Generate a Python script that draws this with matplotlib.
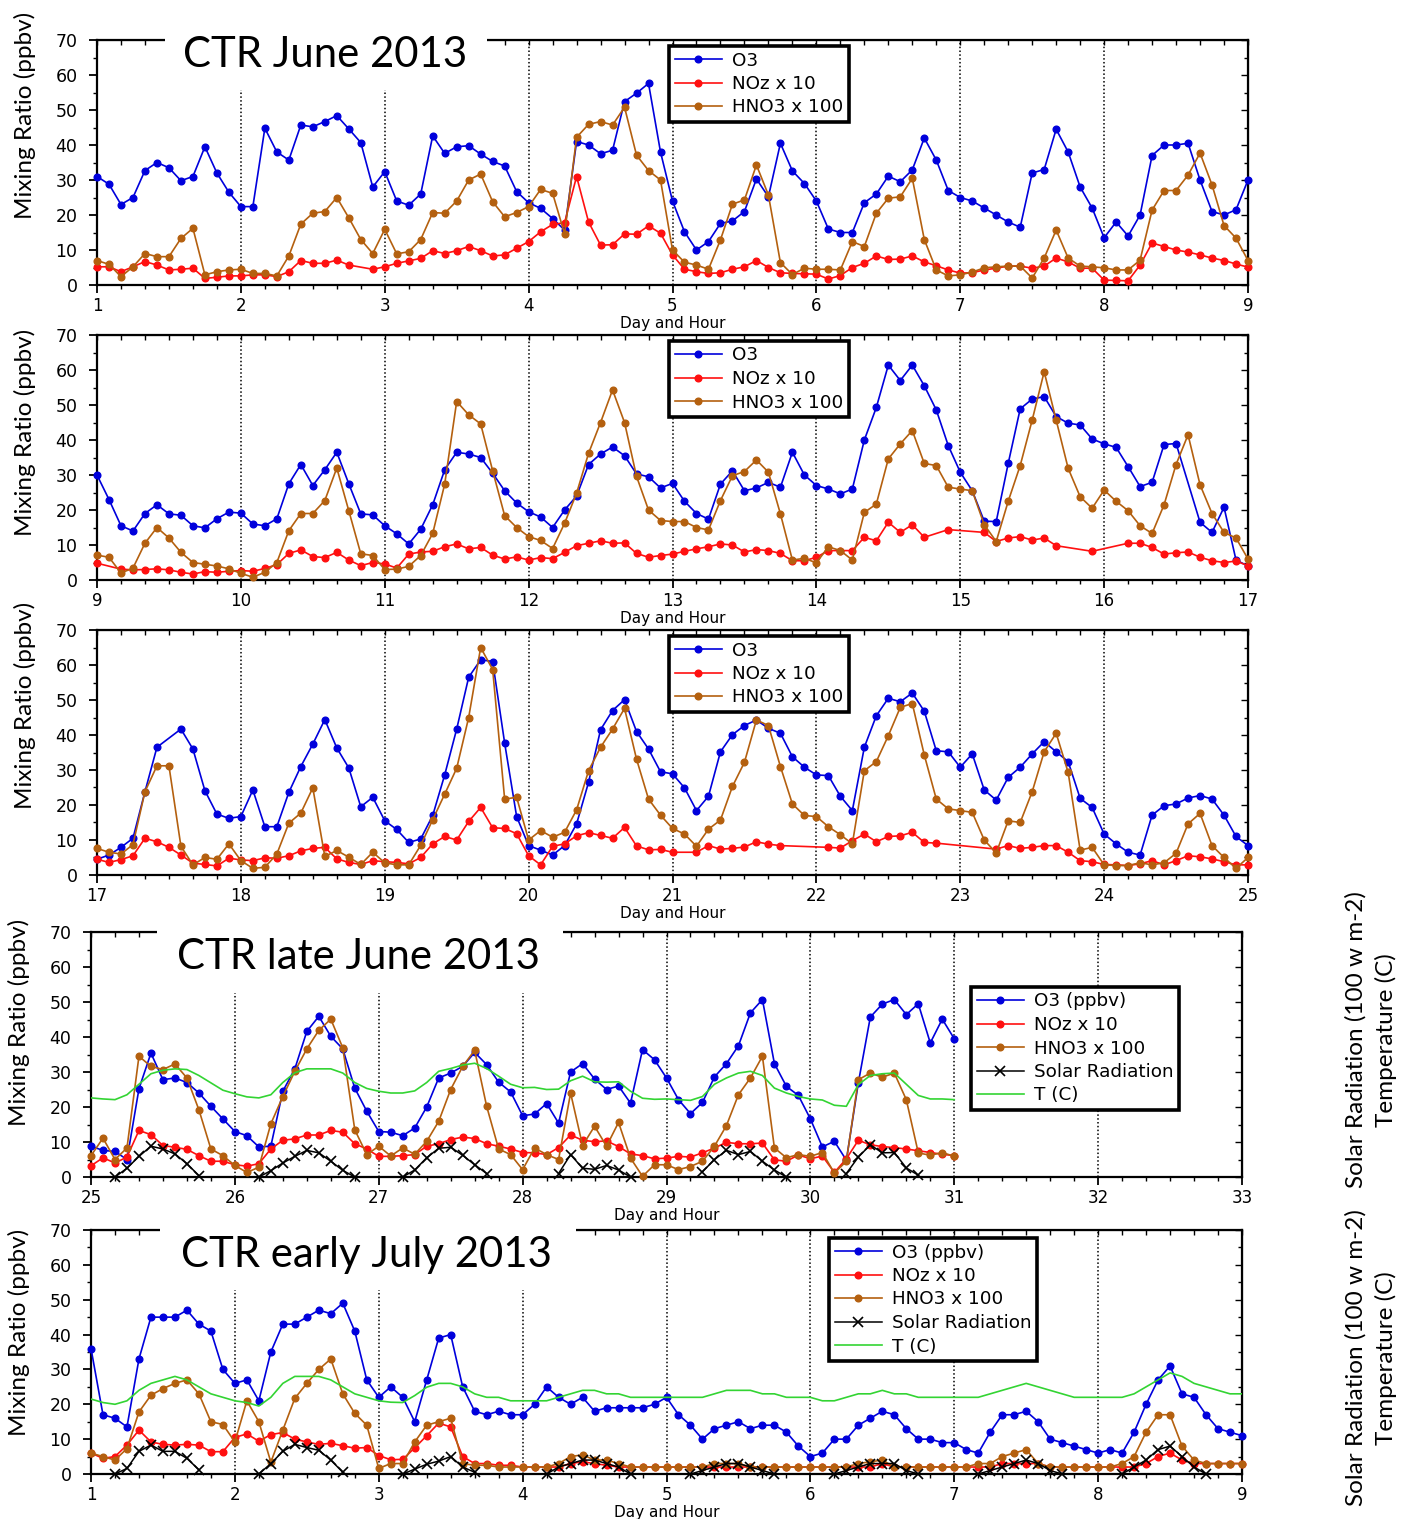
import numpy as np
import matplotlib
matplotlib.use("Agg")
import matplotlib.pyplot as plt
from matplotlib.patches import Rectangle
from matplotlib.ticker import MultipleLocator

W, H = 1403, 1519

# 2-hourly values (12 per day), None = missing sample
o3_1 = [31, 28.8, 23, 25, 32.7, 35, 33.5, 29.8, 31, 39.5, 32, 26.5,
        22.4, 22.4, 44.8, 38, 35.7, 45.7, 45.2, 46.7, 48.4, 44.6, 40.7, 28,
        32.4, 24, 22.8, 26, 42.6, 37.6, 39.5, 39.8, 37.4, 35.3, 34, 26.7,
        23.5, 21.9, 19, 15.7, 41, 40, 37.5, 38.5, 52.4, 54.8, 57.6, 38,
        24, 15.2, 10, 12.4, 17.6, 18.3, 21, 30.3, 25.2, 40.5, 32.6, 29,
        24, 16, 15, 15, 23.5, 26, 31.1, 29.5, 32.9, 42, 35.7, 27,
        25, 24, 22, 20, 18, 16.5, 32, 33, 44.5, 38, 28, 22,
        13.5, 18, 14, 20, 37, 40, 40, 40.5, 30, 21, 20, 21.5,
        30]
noz_1 = [5.2, 5.2, 3.8, 5.2, 6.7, 5.7, 4.3, 4.5, 4.8, 1.9, 2.2, 2.6,
         2.6, 2.9, 2.9, 2.4, 3.8, 7, 6.2, 6.2, 7.1, 5.7, None, 4.5,
         5.2, 6.2, 6.9, 7.6, 9.8, 9, 9.8, 11, 9.8, 8.3, 8.6, 10.5,
         12.4, 15.2, 17.3, 17.8, 31, 18, 11.4, 11.5, 14.6, 14.5, 16.9, 14.8,
         8.6, 4.5, 3.8, 3.3, 3.5, 4.5, 5.2, 7, 5, 3.5, 3.3, 3.2,
         3.1, 1.7, 2.7, 5, 6.2, 8.3, 7.3, 7.4, 8.3, 6.6, 5.5, 4.3,
         3.4, 3.5, 4.3, 4.8, 5.4, 5.4, 4.8, 5.4, 7.7, 6.6, 4.8, 4.8,
         1.4, 1.3, 1.2, 5.7, 12, 11, 10, 9.4, 8.6, 7.7, 7, 6,
         5.1]
hno3_1 = [7, 5.9, 2.4, 5.2, 9, 8.1, 8.1, 13.3, 16.2, 2.9, 3.8, 4.3,
          4.5, 3.3, 3.3, 2.6, 8.3, 17.4, 20.5, 21, 25, 19.2, 13, 9,
          15.9, 8.9, 9.5, 13, 20.7, 20.5, 24, 30, 31.7, 23.8, 19.5, 20.7,
          22.4, 27.3, 26.2, 14.6, 42.2, 45.9, 46.7, 45.7, 50.8, 37.1, 32.7, 30,
          10, 6.5, 5.7, 4.5, 12.9, 23.1, 24.3, 34.3, 25.7, 6.4, 3, 4.8,
          4.5, 4.5, 4.3, 12.4, 11, 20.5, 24.8, 25.2, 30.5, 13, 4.3, 2.6,
          2.9, 3.7, 4.9, 5.2, 5.4, 5.4, 2, 7.7, 15.7, 7.7, 5.4, 5.2,
          4.9, 4.3, 4.3, 7.1, 21.4, 27, 27, 31.4, 37.7, 28.6, 17, 13.4,
          7]

o3_2 = [30, 23, 15.5, 14, 19, 21.5, 18.9, 18.5, 15.5, 14.9, 17.5, 19.4,
        19.1, 16, 15.5, 17.5, 27.5, 33, 27, 31.5, 36.5, 27.5, 18.9, 18.6,
        15.5, 13.2, 10.3, 14.5, 21.5, 31.5, 36.5, 36, 35, 30.5, 25.5, 22,
        19.5, 18, 15, 20, 24, 33, 36, 38, 35.5, 30.3, 29.5, 26.3,
        27.6, 22.5, 19, 17.4, 27.4, 31.2, 25.5, 26.3, 27.9, 26.5, 36.5, 30,
        27, 26, 24.6, 26, 40, 49.3, 61.4, 57, 61.4, 55.5, 48.6, 38.4,
        30.8, 25.5, 16.8, 16.7, 33.3, 48.9, 51.7, 52.4, 46.7, 44.8, 44.3, 40.3,
        38.9, 37.9, 32.4, 26.7, 27.9, 38.7, 39, None, 16.5, 13.6, 20.8, 5.7,
        4]
noz_2 = [4.8, None, 3.1, 2.9, 3.0, 3.2, 2.9, 2.2, 1.7, 2.4, 2.2, 2.5,
         2.7, 2.5, 3.3, 4.4, 7.6, 8.6, 6.7, 6.4, 7.9, 5.7, 4.1, 5,
         4.6, 3.4, 7.4, 8, 8.2, 9.5, 10.3, 8.9, 9.3, 7.1, 6, 6.6,
         5.7, 6.4, 6.1, 7.9, 9.8, 10.5, 11.2, 10.5, 10.6, 7.6, 6.5, 7,
         7.4, 8.2, 8.9, 9.5, 10.3, 10, 8, 8.7, 8.4, 7.6, 5.5, 5.5,
         6.5, 8.4, 8.4, 8.4, 12.2, 11.2, 16.5, 13.6, 15.8, 12.2, None, 14.4,
         None, None, 13.6, 11, 12, 12.4, 11.4, 12, 9.8, None, None, 8.2,
         None, None, 10.5, 10.5, 9.3, 7.4, 7.8, 8, 6.5, 5.5, 5, 5.4,
         4.1]
hno3_2 = [7.1, 6.5, 2, 3.4, 10.5, 15, 12, 7.9, 5, 4.5, 4, 3.2,
          1.9, 0.8, 2.2, 5, 14.1, 19, 19, 22.7, 32, 19.8, 7.5, 7,
          3, 3.1, 3.9, 7, 13.3, 27.4, 51, 47.2, 44.6, 31.2, 18.4, 15,
          12.4, 11.3, 9, 16.2, 24.8, 36.2, 45, 54.3, 45, 29.6, 20, 17,
          16.7, 16.7, 15, 14.3, 22.7, 29.8, 31, 34.3, 30.8, 18.9, 5.7, 6.2,
          4.9, 9.5, 8.4, 5.7, 19.3, 21.7, 34.6, 38.9, 42.7, 33.3, 32.7, 26.5,
          26, 25.5, 15.8, 11, 22.5, 32.7, 45.7, 59.5, 45.7, 31.9, 23.8, 20.5,
          25.7, 22.5, 19.8, 15.5, 13.3, 21.5, 33, 41.5, 27.2, 19, 13.6, 12,
          6]

o3_3 = [4.5, 5.7, 7.9, 10.5, 23.8, 36.5, None, 41.7, 36, 24.1, 17.4, 16.2,
        16.7, 24.3, 13.8, 13.8, 23.6, 31, 37.4, 44.4, 36.3, 30.6, 19.5, 22.2,
        15.5, 13, 9.3, 10.3, 17, 28.6, 41.7, 56.5, 61.5, 61, 37.7, 16.7,
        8.4, 7.1, 5.7, 8.4, 14.6, 26.5, 41.5, 47, 50.1, 41, 36, 29.5,
        28.9, 24.9, 18.4, 22.5, 35.2, 40.1, 42.7, 44.3, 41.9, 40.5, 33.8, 30.8,
        28.6, 28.4, 22.5, 18.4, 36.5, 45.5, 50.5, 49.5, 52, 46.8, 35.5, 35.2,
        30.8, 34.6, 24.3, 21.4, 27.9, 30.8, 34.6, 38.1, 35.2, 32.4, 21.9, 19.3,
        11.7, 8.9, 6.5, 5.7, 17.1, 19.8, 20.3, 22, 22.7, 21.7, 17.1, 11,
        8.4]
noz_3 = [4.5, 3.6, 4.4, 5.5, 10.5, 9.5, 7.9, 5.7, 3.4, 3, 2.6, 4.8,
         4.3, 4.1, 4.9, 4.8, 5.5, 6.9, 7.6, 7.9, 4.6, 3.6, 3, 4.1,
         3.8, 3.6, 3.2, 5, 8.9, 11, 10, 15.3, 19.3, 13.5, 13.3, 11.8,
         5.5, 2.9, 8.2, 8.9, 11.2, 12.1, 11.3, 10.5, 13.6, 8.3, 7.2, 7.3,
         6.5, None, 6.5, 8.4, 7.4, 7.6, 8, 9.5, 8.8, 8.4, None, None,
         None, 7.9, 7.7, 9.8, 11.7, 9.5, 11, 11.2, 12.2, 9.3, 9.1, None,
         None, None, None, 7.4, 8.4, 7.6, 7.9, 8.4, 8.4, 6.5, 4.1, 3.8,
         3, 2.9, 2.7, 3.2, 4.1, 2.9, 4.1, 5.5, 5.2, 4.6, 3.8, 2.9,
         2.9]
hno3_3 = [7.6, 6.5, 6, 8.7, 23.8, 31.2, 31.2, 8.2, 2.9, 5, 4.5, 8.9,
          4.1, 1.9, 2.2, 6, 14.8, 17.7, 24.9, 5.3, 7, 5.1, 3, 6.5,
          3.5, 2.9, 2.9, 8.5, 15.8, 23.1, 30.5, 45, 65, 58.7, 21.7, 22.2,
          10, 12.7, 10.8, 12.2, 18.6, 29.8, 36.5, 41.7, 47.6, 33.1, 21.7, 17.1,
          13.3, 11.7, 8.2, 13.1, 15.7, 25.3, 32.2, 44.3, 42.7, 31, 20.3, 17,
          16.7, 13.8, 11.5, 8.9, 29.8, 32.4, 39.8, 47.9, 49, 34.3, 21.7, 18.9,
          18.4, 17.9, 10, 6.3, 15.5, 15, 23.8, 35.2, 40.5, 29.3, 7.1, 7.9,
          2.9, 2.7, 2.7, 3.5, 2.9, 3.5, 6.2, 14.6, 17.6, 8.4, 5, 1.9,
          5]

o3_4 = [8.8, 7.6, 7.3, 5, 25.2, 35.4, 27.8, 28.3, 27, 24, 20.2, 16.6,
        13, 11.8, 8.6, 8.8, 24.5, 30.9, 41.6, 45.9, 40.2, 36.6, 25.4, 18.8,
        13, 12.8, 11.8, 14, 20, 28.3, 29.7, 31.6, 35.6, 32.1, 27.1, 24.3,
        17.5, 18, 21, 15.4, 30, 32.4, 28, 25, 26, 21.1, 36.4, 33.5,
        28.3, 22.1, 18.1, 21.3, 28.6, 32.4, 37.5, 46.9, 50.7, 32.4, 25.9, 23.3,
        16.6, 8.6, 10.2, 4.8, 26.9, 45.7, 49.4, 50.7, 46.4, 49.5, 38.3, 45.1,
        39.5]
noz_4 = [3.2, 5.5, 4, 5.7, 13.3, 12.1, 9, 8.5, 7.9, 6.1, 4.5, 4.5,
         3.5, 3.1, 3.8, 8, 10.5, 10.9, 12, 12, 13.3, 12.8, 9.5, 8,
         5.9, 5.9, 6.1, 6.4, 8.8, 9.5, 10.7, 11.4, 11, 9.5, 8.8, 8,
         7, 6.9, 6.4, 8.4, 12, 10.5, 10.1, 10.3, 8.7, 6.6, 6.1, 5.2,
         5.4, 5.9, 5.7, 6.9, 8.3, 9.9, 9.5, 9.5, 9.7, 4.9, 4.5, 6.3,
         5.2, 6, 1.3, 5.2, 10.5, 9.2, 8.7, 8.4, 8, 7.5, 7, 6.5,
         6.1]
hno3_4 = [6.1, 11.1, 5, 8.3, 34.5, 31.6, 30.7, 32.3, 28.3, 19.2, 8, 6.1,
          3.3, 1.3, 2.8, 15.2, 23, 30.2, 36.6, 41.9, 45.1, 36.9, 13.5, 6.4,
          8.8, 6, 8.3, 6.5, 10.2, 15.9, 25, 31.6, 36.2, 20.2, 8, 6.4,
          2.1, 8.3, 6.4, 5, 24, 9, 14.5, 8.8, 15.6, 5.4, 0.2, 3.5,
          3.5, 2.1, 3, 4.5, 8.8, 14.7, 23.5, 28.3, 34.5, 8.3, 5.5, 6.4,
          5.9, 7, 1.1, 4.5, 27.8, 29.7, 28.5, 29.7, 22.1, 6.9, 6.2, 7,
          5.9]
solar_4 = [None, None, 0, 2.5, 5.9, 8.8, 8, 6.6, 3.8, 0.4, None, None,
           None, None, 0, 1.8, 4, 5.9, 7.6, 6.9, 4.5, 1.9, 0, None,
           None, None, 0, 2, 5.5, 8.2, 8.5, 6.2, 3.5, 1, None, None,
           None, None, None, 1, 6.4, 2.5, 2.2, 3.3, 2, 0, None, None,
           None, None, None, 1.5, 5, 7.6, 6.4, 7.3, 4.5, 2, 0, None,
           None, None, None, 1, 5.7, 9.2, 6.9, 7, 2.6, 0.5, None, None,
           None]
temp_4 = [22.6, 22.3, 22.1, 23.5, 26.5, 29.5, 30.5, 30.9, 30.7, 29, 26.9, 24.8,
          23.8, 22.9, 22.6, 23.5, 27, 29.8, 30.9, 30.9, 30.9, 29.7, 27, 25.3,
          24.5, 24, 24, 24.6, 27, 30.2, 31, 32, 32.5, 31, 28.8, 26.5,
          25.5, 25.6, 25, 25.1, 27.5, 28.8, 27.2, 27.1, 27.2, 24.5, 22.5, 22.2,
          22.3, 22.1, 21.9, 23, 26.5, 28.3, 29.7, 30.2, 29, 25.4, 24, 23,
          22.3, 22, 20.5, 20.2, 26.4, 29, 29.5, 29.7, 26.5, 23.3, 22.3, 22.3,
          22.1]

o3_5 = [36, 17, 16, 13.5, 33, 45, 45, 45, 47, 43, 41, 30,
        26, 27, 21, 35, 43, 43, 45, 47, 46, 49, 41, 27,
        22, 25, 22, 15, 27, 39, 40, 25, 18, 17, 18, 17,
        17, 20, 25, 22, 20, 22, 18, 19, 19, 19, 19, 20,
        22, 17, 14, 10, 13, 14, 15, 13, 14, 14, 12, 8,
        5, 6, 10, 10, 14, 16, 18, 17, 13, 10, 10, 9,
        9, 7, 6, 12, 17, 17, 18, 15, 10, 9, 8, 7,
        6, 7, 6, 12, 20, 27, 31, 23, 22, 17, 13, 12,
        11]
noz_5 = [6, 4.5, 5, 8.3, 12.6, 9.2, 8.5, 8.3, 8.5, 8.3, 6.4, 6.4,
         10.5, 11.5, 9.4, 11.3, 11.9, 10, 9.2, 8.5, 8.8, 8.1, 7.4, 7.6,
         5.3, 4.1, 4.2, 7.5, 11, 14.6, 13.5, 5, 3, 3, 2.5, 2.5,
         2, 2, 2, 2, 3, 3.5, 3, 2.5, 2, 2, 2, 2,
         2, 2, 2, 2, 2, 2, 2, 2, 2, 2, 2, 2,
         2, 2, 2, 2, 2, 2, 3, 2, 2, 2, 2, 2,
         2, 2, 2, 2, 3, 3, 3, 3, 2, 2, 2, 2,
         2, 2, 2, 2, 3, 5, 6, 4, 3, 3, 3, 3,
         3]
hno3_5 = [6, 5, 4, 7.3, 17.8, 22.6, 24.5, 26, 27, 23, 15, 14.2,
          9.2, 21, 15, 3.4, 12.6, 21.7, 26, 30, 33, 23, 17.4, 14,
          1.6, 3, 3, 9.2, 14, 15, 16, 3, 2.5, 2.5, 2, 2,
          2, 2, 2, 3, 5, 5.5, 4, 4, 3, 2, 2, 2,
          2, 2, 2, 2, 3, 3, 3, 2, 2, 2, 2, 2,
          2, 2, 2, 2, 3, 3.5, 4, 2, 2, 2, 2, 2,
          2, 2, 3, 3, 5, 6, 7, 3, 2, 2, 2, 2,
          2, 2, 3, 5, 12, 17, 17, 8, 4, 3, 3, 3,
          3]
solar_5 = [None, None, 0, 1.6, 6.5, 8.3, 6.5, 6.5, 4.5, 1.2, None, None,
           None, None, 0, 3, 6.5, 8.5, 7.6, 6.8, 4, 0.5, None, None,
           None, None, 0, 1.4, 2.8, 3.7, 5, 2, 0.5, None, None, None,
           None, None, 0, 2, 3, 4, 4, 3, 2, 0, None, None,
           None, None, 0, 1, 2, 3, 3, 2, 1, 0, None, None,
           None, None, 0, 1, 2, 3, 3, 3, 1, 0, None, None,
           None, None, 0, 1, 2, 3, 4, 3, 1, 0, None, None,
           None, None, 0, 2, 4, 7, 8, 5, 2, 0, None, None,
           None]
temp_5 = [21.5, 20.5, 20, 21, 24, 26, 27, 28, 27, 25, 23, 22,
          21, 20.5, 19.5, 22, 26, 28, 28, 28, 27, 25, 23, 22,
          21, 20.6, 20.5, 22.5, 24.9, 26, 26, 25, 23, 22, 22, 21,
          21, 21, 21, 22, 23, 24, 24, 23, 23, 22, 22, 22,
          22, 22, 22, 22, 23, 24, 24, 24, 23, 23, 22, 22,
          22, 21, 21, 22, 23, 23, 24, 23, 23, 22, 22, 22,
          22, 22, 22, 23, 24, 25, 26, 25, 24, 23, 22, 22,
          22, 22, 22, 23, 25, 27, 29, 28, 26, 25, 24, 23,
          23]

BLUE = '#0000DC'
RED = '#FF1010'
BROWN = '#B4600F'
GREEN = '#33D433'

TICK_FONT = 'DejaVu Sans'
CAL_FONT = 'Lato'

fig = plt.figure(figsize=(W / 100, H / 100), dpi=100)


def px_rect(l, t, r, b):
    return [l / W, 1 - b / H, (r - l) / W, (b - t) / H]


def to_xy(start, vals):
    y = np.array([np.nan if v is None else v for v in vals], float)
    t = start + np.arange(len(y)) / 12.0
    return t, y


def plot_dots(ax, start, vals, color, label):
    t, y = to_xy(start, vals)
    ok = ~np.isnan(y)
    ax.plot(t[ok], y[ok], '-', color=color, lw=1.2, marker='o', ms=4.8,
            mec=color, mfc=color, label=label, clip_on=False, zorder=3)


def setup_axes(rect, d0, day_lines):
    ax = fig.add_axes(px_rect(*rect))
    ax.set_xlim(d0, d0 + 8)
    ax.set_ylim(0, 70)
    ax.set_xticks(range(d0, d0 + 9))
    ax.set_yticks(range(0, 71, 10))
    ax.xaxis.set_minor_locator(MultipleLocator(1 / 6))
    ax.yaxis.set_minor_locator(MultipleLocator(5))
    ax.tick_params(which='major', direction='out', length=6, width=1.3,
                   labelsize=12, pad=2.5)
    ax.tick_params(which='minor', direction='out', length=3, width=1)
    ax.tick_params(axis='y', which='major', pad=8, labelsize=12.5)
    for lab in ax.get_xticklabels() + ax.get_yticklabels():
        lab.set_family(TICK_FONT)
    for sp in ax.spines.values():
        sp.set_linewidth(1.6)
    ax.set_xlabel('Day and Hour', fontsize=11, family=TICK_FONT, labelpad=1)
    # inward ticks on the top and right frame
    top = ax.secondary_xaxis('top')
    top.set_xticks(range(d0, d0 + 9))
    top.xaxis.set_minor_locator(MultipleLocator(1 / 6))
    top.tick_params(which='both', direction='in', length=3.5, width=1, labeltop=False)
    right = ax.secondary_yaxis('right')
    right.set_yticks(range(0, 71, 10))
    right.yaxis.set_minor_locator(MultipleLocator(5))
    right.tick_params(which='major', direction='in', length=5, width=1, labelright=False)
    right.tick_params(which='minor', direction='in', length=3, width=1)
    for d in day_lines:
        ax.axvline(d, color='black', ls=(0, (1, 1.5)), lw=1.1, zorder=1)
    return ax


def add_legend(ax, left, top):
    leg = ax.legend(loc='upper left', bbox_to_anchor=(left / W, 1 - top / H),
                    bbox_transform=fig.transFigure, borderaxespad=0,
                    frameon=True, fancybox=False, framealpha=1,
                    edgecolor='black', prop={'family': TICK_FONT, 'size': 13.2},
                    handlelength=2.6, handletextpad=0.55, labelspacing=0.3,
                    borderpad=0.3)
    leg.get_frame().set_linewidth(2.6)
    leg.set_zorder(10)


def add_title(text, box, tx, ty):
    l, t, r, b = box
    fig.add_artist(Rectangle((l / W, 1 - b / H), (r - l) / W, (b - t) / H,
                             transform=fig.transFigure, facecolor='white',
                             edgecolor='none', zorder=5))
    fig.text(tx / W, 1 - ty / H, text, fontsize=30.2, family=CAL_FONT,
             ha='left', va='center', zorder=6)


def add_ylabel(y_center, x=25):
    fig.text(x / W, 1 - y_center / H, 'Mixing Ratio (ppbv)', rotation=90,
             fontsize=17.5, family=CAL_FONT, ha='center', va='center')


# Panels 1-3: three-week June record
panels = [
    ((97, 40, 1248, 285), 1, o3_1, noz_1, hno3_1, 115),
    ((97, 335, 1248, 580), 9, o3_2, noz_2, hno3_2, 432),
    ((97, 630, 1248, 875), 17, o3_3, noz_3, hno3_3, 705),
]
legend_tops = [46, 341, 636]
for (rect, d0, o3, noz, hno3, yl), ltop in zip(panels, legend_tops):
    ax = setup_axes(rect, d0, range(d0 + 1, d0 + 8))
    plot_dots(ax, d0, o3, BLUE, 'O3')
    plot_dots(ax, d0, noz, RED, 'NOz x 10')
    plot_dots(ax, d0, hno3, BROWN, 'HNO3 x 100')
    add_legend(ax, 669, ltop)
    add_ylabel(yl)

add_title('CTR June 2013', (165, 25, 487, 90), 183, 55)


def met_panel(rect, d0, o3, noz, hno3, solar, temp, leg_left, leg_top, yl):
    ax = setup_axes(rect, d0, range(d0 + 1, d0 + 8))
    plot_dots(ax, d0, o3, BLUE, 'O3 (ppbv)')
    plot_dots(ax, d0, noz, RED, 'NOz x 10')
    plot_dots(ax, d0, hno3, BROWN, 'HNO3 x 100')
    ts, ys = to_xy(d0, solar)
    ax.plot(ts, ys, '-', color='black', lw=1.1, marker='x', ms=7, mew=1.2,
            label='Solar Radiation', zorder=3, clip_on=False)
    tt, yt = to_xy(d0, temp)
    ax.plot(tt, yt, '-', color=GREEN, lw=1.2, label='T (C)', zorder=4)
    add_legend(ax, leg_left, leg_top)
    add_ylabel(yl, 19)
    return ax


met_panel((91, 932, 1242, 1177), 25, o3_4, noz_4, hno3_4, solar_4, temp_4,
          971, 987, 1022)
add_title('CTR late June 2013', (157, 918, 563, 993), 177, 957)

met_panel((91, 1230, 1242, 1474), 1, o3_5, noz_5, hno3_5, solar_5, temp_5,
          829, 1238, 1332)
add_title('CTR early July 2013', (160, 1216, 576, 1290), 181, 1255)

for yc in (1040, 1358):
    fig.text(1371 / W, 1 - yc / H, 'Solar Radiation (100 w m-2)\nTemperature (C)',
             rotation=90, fontsize=17.5, family=CAL_FONT, ha='center', va='center',
             multialignment='center', linespacing=1.45)

fig.savefig('out.png', dpi=100)
